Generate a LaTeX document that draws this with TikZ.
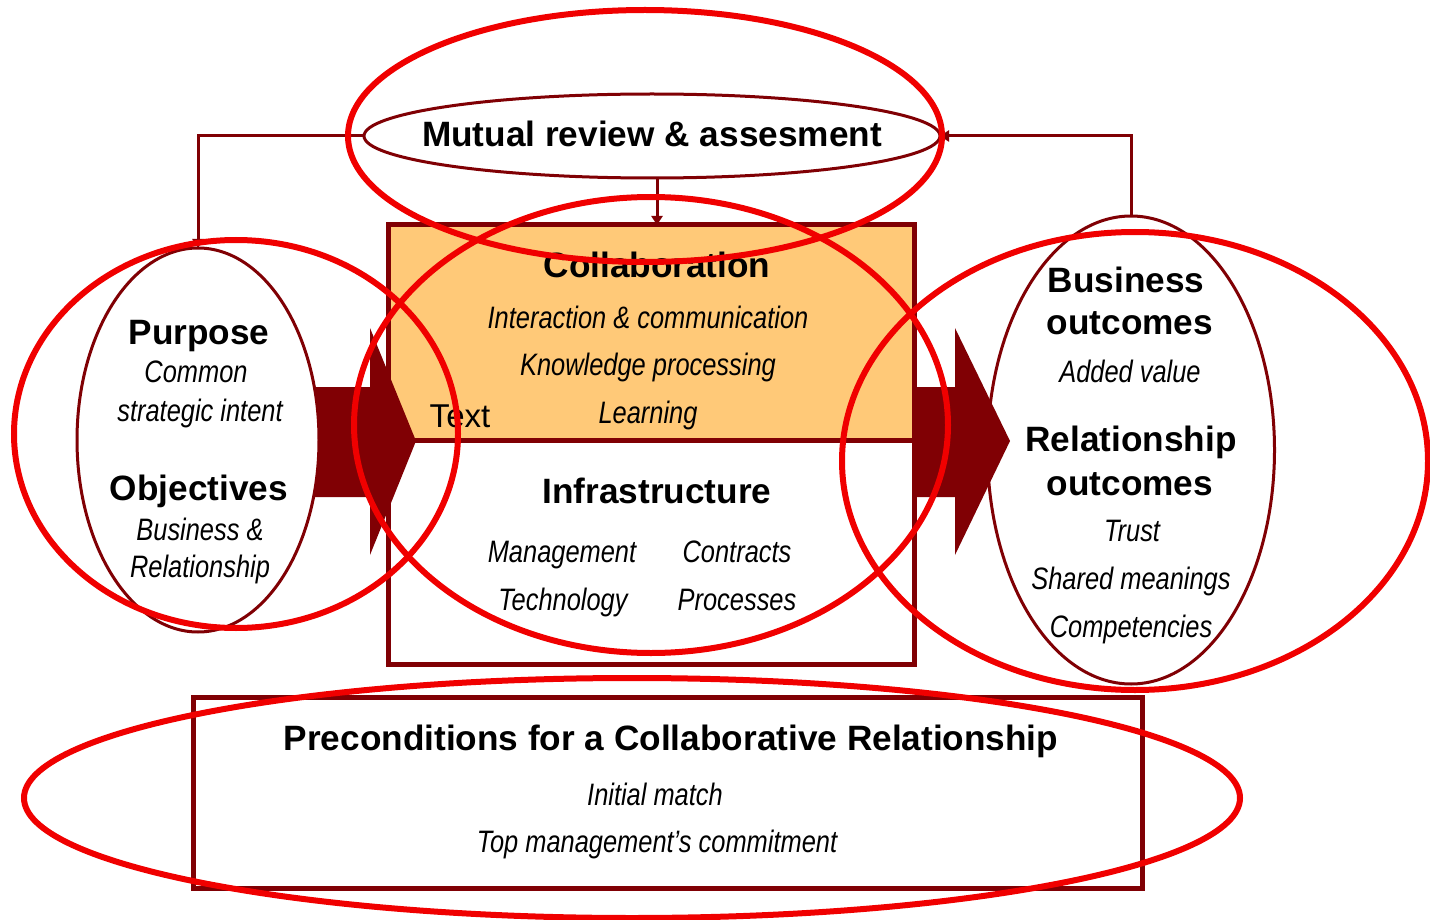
\documentclass[tikz,border=0pt]{standalone}
\usepackage{fontspec}
\setmainfont{Liberation Sans}
\newfontfamily\narrowfont{Liberation Sans}[FakeStretch=0.82]
\usetikzlibrary{shapes.geometric,arrows.meta,calc}

\definecolor{darkmaroon}{RGB}{128,0,4}
\definecolor{hilite}{RGB}{240,0,0}
\definecolor{collabfill}{RGB}{255,201,120}

\newcommand\mkhead{\fontsize{35.2}{40}\selectfont\bfseries}
\newcommand\mkitem{\fontsize{31}{36}\selectfont\narrowfont\itshape}
\newcommand\mkplain{\fontsize{33}{38}\selectfont}

\tikzset{
  lbl/.style={inner sep=0pt, outer sep=0pt, anchor=base},
  head/.style={lbl, font=\mkhead},
  item/.style={lbl, font=\mkitem},
  ring/.style={ellipse, draw=darkmaroon, line width=3pt, fill=white, inner sep=0pt, outer sep=0pt},
  markring/.style={ellipse, draw=hilite, line width=6pt, inner sep=0pt, outer sep=0pt},
  link/.style={draw=darkmaroon, line width=3pt, -{Triangle[width=11pt,length=9pt]}},
  framebox/.style={draw=darkmaroon, line width=5pt, inner sep=0pt, outer sep=0pt},
}

\begin{document}
\begin{tikzpicture}[x=1pt,y=-1pt]
\useasboundingbox (0,0) rectangle (1430,920);

% review ellipse at the top
\node[ring, minimum width=576pt, minimum height=84pt] (review) at (652,136) {};
\node[head] (reviewtxt) at (652,147) {Mutual review \& assesment};

% central box: collaboration above, infrastructure below
\node[inner sep=0pt, outer sep=0pt, minimum width=526pt, minimum height=439pt] (box) at (651,444.5) {};
\coordinate (split) at (651,440);
\fill[collabfill] (box.north west) rectangle (split -| box.east);
\draw[darkmaroon, line width=5pt] (box.north west) rectangle (box.south east);
\draw[darkmaroon, line width=5pt] (split -| box.west) -- (split -| box.east);

\node[head] (collabtxt) at (657,277) {Collaboration};
\node[item] (inter) at (648,328) {Interaction \& communication};
\node[item] (know) at (648,375) {Knowledge processing};
\node[item] (learn) at (648,423) {Learning};
\node[lbl, font=\mkplain] (textlbl) at (460,427) {Text};
\node[head] (infra) at (657,503) {Infrastructure};
\node[item] (mgmt) at (562,562) {Management};
\node[item] (contr) at (737,562) {Contracts};
\node[item] (tech) at (563,610) {Technology};
\node[item] (proc) at (737,610) {Processes};

% block arrow into the box
\fill[darkmaroon] (300,387) -- (370,387) -- (370,328) -- (416,441) -- (370,555)
  -- (370,497) -- (300,497) -- cycle;

% purpose and objectives
\node[ring, minimum width=242pt, minimum height=384pt] (purpose) at (198,440) {};
\node[head] (purp) at (199,344) {Purpose};
\node[item] (common) at (196,382) {Common};
\node[item] (strat) at (200,421) {strategic intent};
\node[head] (obj) at (199,500) {Objectives};
\node[item] (busamp) at (200,540) {Business \&};
\node[item] (relit) at (200,577) {Relationship};

% outcomes
\node[ring, minimum width=287pt, minimum height=468pt] (outcomes) at (1131,450) {};
\node[head] (bus) at (1126,292) {Business};
\node[head] (outa) at (1130,334) {outcomes};
\node[item] (added) at (1130,382) {Added value};
\node[head] (rel) at (1131,451) {Relationship};
\node[head] (outb) at (1130,495) {outcomes};
\node[item] (trust) at (1132,541) {Trust};
\node[item] (shared) at (1131,589) {Shared meanings};
\node[item] (comp) at (1131,637) {Competencies};

% block arrow out of the box
\fill[darkmaroon] (914,387) -- (955,387) -- (955,328) -- (1010,441) -- (955,555)
  -- (955,497) -- (914,497) -- cycle;

% preconditions
\node[framebox, minimum width=949pt, minimum height=191pt] (pre) at (667.5,792.5) {};
\node[head] (pretitle) at (671,750) {Preconditions for a Collaborative Relationship};
\node[item] (initial) at (655,805) {Initial match};
\node[item] (topm) at (657,852) {Top management’s commitment};

% feedback connectors
\draw[link] (review.west) -| (purpose.north);
\draw[link] (outcomes.north) |- (review.east);
\draw[link] (review.south -| collabtxt) -- (box.north -| collabtxt);

% red highlight rings
\node[markring, minimum width=594pt, minimum height=252pt] (markA) at (645,136) {};
\node[markring, minimum width=594pt, minimum height=456pt] (markB) at (651,425) {};
\node[markring, minimum width=444pt, minimum height=388pt] (markC) at (236,434) {};
\node[markring, minimum width=586pt, minimum height=458pt] (markD) at (1135,461) {};
\node[markring, minimum width=1216pt, minimum height=240pt] (markE) at (632,798) {};
\end{tikzpicture}
\end{document}
